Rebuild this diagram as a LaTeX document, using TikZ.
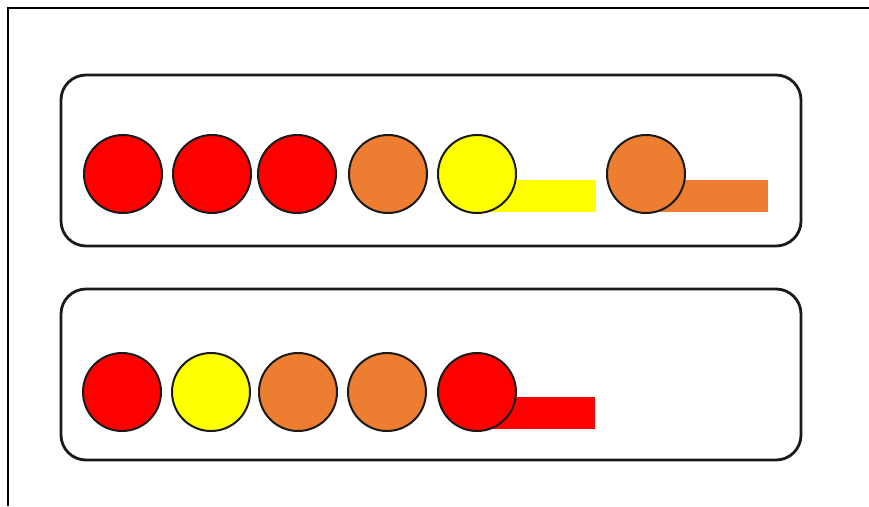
\documentclass[tikz,border=0pt]{standalone}
\definecolor{cred}{HTML}{FF0000}
\definecolor{cyel}{HTML}{FFFF00}
\definecolor{corg}{HTML}{ED7D31}
\definecolor{cline}{HTML}{1A1A1A}
\tikzset{
  ball/.style={circle, draw=cline, line width=2pt, minimum size=78pt, inner sep=0pt},
  panel/.style={draw=cline, line width=2.8pt, rounded corners=25pt},
  bar/.style={draw=none},
}
\begin{document}
\begin{tikzpicture}[x=1pt,y=-1pt]
\useasboundingbox (0,0) rectangle (869,506);
\fill[white] (0,0) rectangle (869,506);
% frame lines
\draw[line width=2pt, black] (8,506) -- (8,8) -- (869,8);
% panels
\draw[panel] (61,75) rectangle (801,246);
\draw[panel] (61,289) rectangle (801,460);
% bars
\fill[cyel] (477,180) rectangle (596,212);
\fill[corg] (646,180) rectangle (768,212);
\fill[cred] (477,397) rectangle (595,429);
% row 1
\node[ball, fill=cred] (a1) at (123,174) {};
\node[ball, fill=cred] (a2) at (212,174) {};
\node[ball, fill=cred] (a3) at (297,174) {};
\node[ball, fill=corg] (a4) at (388,174) {};
\node[ball, fill=cyel] (a5) at (477,174) {};
\node[ball, fill=corg] (a6) at (646,174) {};
% row 2
\node[ball, fill=cred] (b1) at (122,392) {};
\node[ball, fill=cyel] (b2) at (211,392) {};
\node[ball, fill=corg] (b3) at (298,392) {};
\node[ball, fill=corg] (b4) at (387,392) {};
\node[ball, fill=cred] (b5) at (477,392) {};
\end{tikzpicture}
\end{document}
